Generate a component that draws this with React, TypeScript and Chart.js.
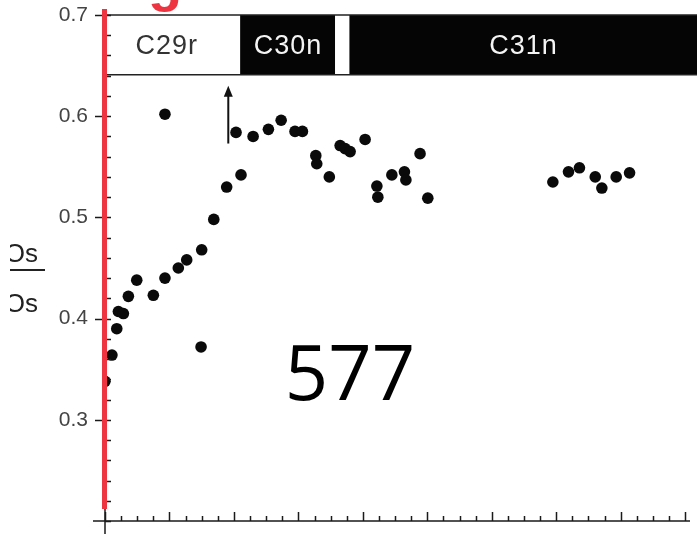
import React, { useEffect, useRef } from 'react';
import { Chart, registerables } from 'chart.js';

Chart.register(...registerables);

// ---- data ----
const xValues = [0, 0.43, 0.73, 0.83, 1.14, 1.45, 1.97, 3.0, 3.72, 4.55, 5.07, 6.0, 5.96, 3.72, 6.75, 7.55, 8.44, 8.13, 9.19, 10.14, 10.93, 11.79, 12.25, 13.08, 13.14, 13.92, 14.59, 14.9, 15.21, 16.14, 16.87, 16.93, 17.8, 18.58, 18.67, 19.55, 20.03, 27.79, 28.76, 29.44, 30.42, 30.83, 31.72, 32.55];
const osRatio = [0.338, 0.364, 0.39, 0.407, 0.405, 0.422, 0.438, 0.423, 0.44, 0.45, 0.458, 0.468, 0.372, 0.602, 0.498, 0.53, 0.542, 0.584, 0.58, 0.587, 0.596, 0.585, 0.585, 0.561, 0.553, 0.54, 0.571, 0.568, 0.565, 0.577, 0.531, 0.52, 0.542, 0.545, 0.537, 0.563, 0.519, 0.535, 0.545, 0.549, 0.54, 0.529, 0.54, 0.544];

const chronNames = ['C29r', 'C30n', '', 'C31n'];
const chronStart = [0, 8.42, 14.28, 15.2];
const chronEnd = [8.42, 14.28, 15.2, 37.5];
const chronNormal = [false, true, false, true];
const chronBottom = 0.641;
const chronTop = 0.7;

const yTickLabels = ['0.3', '0.4', '0.5', '0.6', '0.7'];
const yMin = 0.2;
const yMax = 0.7;
const yMinorStep = 0.02;
const xMin = 0;
const xMax = 36.3;
const xTickCount = 36;
const xMajorEvery = 4;

const arrowX = 7.65;
const arrowFrom = 0.573;
const arrowTo = 0.63;

const bigLabel = '577';
const redLetter = 'g';
const axisTitle = 'Os';

const decor = {
  id: 'decor',
  beforeDatasetsDraw(chart: any) {
    const { ctx, chartArea, scales } = chart;
    const x = scales.x, y = scales.y;
    const top = y.getPixelForValue(chronTop);
    const bot = y.getPixelForValue(chronBottom);
    ctx.save();
    for (let i = 0; i < chronNames.length; i++) {
      const x0 = Math.max(x.getPixelForValue(chronStart[i]), chartArea.left);
      const x1 = Math.min(x.getPixelForValue(chronEnd[i]), chart.width);
      ctx.fillStyle = chronNormal[i] ? '#050505' : '#ffffff';
      ctx.fillRect(x0, top, x1 - x0, bot - top);
      if (!chronNormal[i]) {
        ctx.strokeStyle = '#222';
        ctx.lineWidth = 1.2;
        ctx.beginPath();
        ctx.moveTo(x1, top);
        ctx.lineTo(x1, bot);
        ctx.stroke();
      }
      if (chronNames[i]) {
        ctx.fillStyle = chronNormal[i] ? '#f4f4f4' : '#333';
        ctx.font = '27px "Liberation Sans"';
        (ctx as any).letterSpacing = '1px';
        ctx.textAlign = 'center';
        ctx.textBaseline = 'middle';
        const cx = chronNormal[i] ? (x0 + x1) / 2 : (x0 + x1) / 2 - 6;
        ctx.fillText(chronNames[i], cx, (top + bot) / 2 + 2);
      }
    }
    (ctx as any).letterSpacing = '0px';
    ctx.strokeStyle = '#222';
    ctx.lineWidth = 1.5;
    ctx.beginPath();
    ctx.moveTo(chartArea.left, top);
    ctx.lineTo(chart.width, top);
    ctx.moveTo(chartArea.left, bot);
    ctx.lineTo(chart.width, bot);
    ctx.stroke();
    ctx.restore();
  },
  afterDatasetsDraw(chart: any) {
    const { ctx, chartArea, scales } = chart;
    const x = scales.x, y = scales.y;
    ctx.save();
    ctx.strokeStyle = '#1a1a1a';
    ctx.lineWidth = 1.5;
    // y axis line
    const ax = chartArea.left;
    ctx.beginPath();
    ctx.moveTo(ax, chartArea.top);
    ctx.lineTo(ax, chart.height);
    // x axis line
    ctx.moveTo(ax - 12, chartArea.bottom);
    ctx.lineTo(chartArea.right, chartArea.bottom);
    ctx.stroke();
    // y ticks
    ctx.lineWidth = 1.5;
    ctx.beginPath();
    for (let v = yMin; v <= yMax + 1e-9; v += yMinorStep) {
      const py = Math.round(y.getPixelForValue(v)) + 0.5;
      const isMajor = yTickLabels.includes(v.toFixed(1)) && Math.abs(v * 10 - Math.round(v * 10)) < 1e-6;
      ctx.moveTo(isMajor ? ax - 10 : ax, py);
      ctx.lineTo(ax + 6, py);
    }
    // x ticks
    for (let i = 0; i <= xTickCount; i++) {
      const px = Math.round(x.getPixelForValue(i)) + 0.5;
      const h = i % xMajorEvery === 0 ? 9 : 5;
      ctx.moveTo(px, chartArea.bottom);
      ctx.lineTo(px, chartArea.bottom - h);
    }
    ctx.stroke();

    // arrow
    const apx = x.getPixelForValue(arrowX);
    const a0 = y.getPixelForValue(arrowFrom);
    const a1 = y.getPixelForValue(arrowTo);
    ctx.strokeStyle = '#111';
    ctx.fillStyle = '#111';
    ctx.lineWidth = 2;
    ctx.beginPath();
    ctx.moveTo(apx, a0);
    ctx.lineTo(apx, a1 + 8);
    ctx.stroke();
    ctx.beginPath();
    ctx.moveTo(apx, a1);
    ctx.lineTo(apx - 4.5, a1 + 11);
    ctx.lineTo(apx + 4.5, a1 + 11);
    ctx.closePath();
    ctx.fill();

    // red vertical line
    ctx.strokeStyle = '#ee3440';
    ctx.lineWidth = 5;
    ctx.beginPath();
    ctx.moveTo(ax - 0.5, chartArea.top - 6);
    ctx.lineTo(ax - 0.5, chartArea.bottom - 12);
    ctx.stroke();

    // red letter cropped at top
    ctx.fillStyle = '#ee3440';
    ctx.font = 'bold 56px "Liberation Sans"';
    ctx.textAlign = 'center';
    ctx.textBaseline = 'alphabetic';
    ctx.fillText(redLetter, 165, 0);

    // big label
    ctx.fillStyle = '#000';
    ctx.font = '76px "Open Sans"';
    ctx.textAlign = 'center';
    ctx.fillText(bigLabel, 350, 400);

    // cropped axis title (ratio)
    ctx.save();
    ctx.beginPath();
    ctx.rect(10, 0, 60, chart.height);
    ctx.clip();
    ctx.fillStyle = '#222';
    ctx.font = '26px "Liberation Sans"';
    ctx.textAlign = 'right';
    ctx.fillText(axisTitle, 38, 262);
    ctx.fillText(axisTitle, 38, 312);
    ctx.strokeStyle = '#222';
    ctx.lineWidth = 2;
    ctx.beginPath();
    ctx.moveTo(10, 270);
    ctx.lineTo(45, 270);
    ctx.stroke();
    ctx.restore();

    ctx.restore();
  },
};

export default function App() {
  const ref = useRef<HTMLCanvasElement>(null);
  useEffect(() => {
    const chart = new Chart(ref.current as HTMLCanvasElement, {
      type: 'scatter',
      data: {
        datasets: [
          {
            data: xValues.map((v, i) => ({ x: v, y: osRatio[i] })),
            backgroundColor: '#0a0a0a',
            borderColor: '#0a0a0a',
            pointRadius: 5.8,
            pointBorderWidth: 0,
          },
        ],
      },
      options: {
        responsive: false,
        animation: false,
        devicePixelRatio: 1,
        layout: { padding: { top: 15, right: 7, bottom: 13, left: 0 } },
        plugins: { legend: { display: false }, tooltip: { enabled: false } },
        scales: {
          x: { type: 'linear', min: xMin, max: xMax, display: false },
          y: {
            min: yMin,
            max: yMax,
            afterFit: (s: any) => {
              s.width = 105;
              s.paddingTop = 0;
              s.paddingBottom = 0;
            },
            grid: { display: false, drawTicks: false },
            border: { display: false },
            ticks: {
              stepSize: 0.1,
              padding: 17,
              color: '#444',
              font: { family: 'Liberation Sans', size: 21 },
              callback: (v: any) => {
                const s = Number(v).toFixed(1);
                return yTickLabels.includes(s) ? s : '';
              },
            },
          },
        },
      },
      plugins: [decor],
    });
    return () => chart.destroy();
  }, []);
  return (
    <div style={{ position: 'fixed', left: 0, top: 0, width: 697, height: 534, background: '#fff' }}>
      <canvas ref={ref} width={697} height={534} style={{ display: 'block' }} />
    </div>
  );
}
